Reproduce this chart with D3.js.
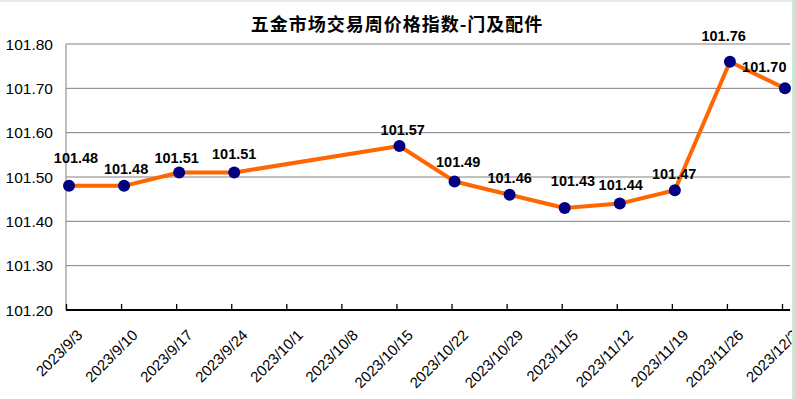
<!DOCTYPE html>
<html>
<head>
<meta charset="utf-8">
<title>五金市场交易周价格指数-门及配件</title>
<script src="https://cdn.jsdelivr.net/npm/d3@7"></script>
<style>
body { margin: 0; background: #fff; }
svg { display: block; }
</style>
</head>
<body>
<script>
// weekly dates on the x axis (10/1 and 10/8 have no value)
var dates = ["2023/9/3","2023/9/10","2023/9/17","2023/9/24","2023/10/1","2023/10/8","2023/10/15",
  "2023/10/22","2023/10/29","2023/11/5","2023/11/12","2023/11/19","2023/11/26","2023/12/3"];
var values = [101.48, 101.48, 101.51, 101.51, null, null, 101.57,
  101.49, 101.46, 101.43, 101.44, 101.47, 101.76, 101.70];
var yTicks = [101.20, 101.30, 101.40, 101.50, 101.60, 101.70, 101.80];
// label nudges (dx, dy) from each point, as the spreadsheet placed them
var labelDx = [7, 2, -2.5, 0, 0, 0, 3.3, 3.7, 0, 8.3, 1, -0.7, -6.3, -20.7];
var labelDy = [-23, -11.7, -10, -13.5, 0, 0, -11, -14.3, -11.3, -21.7, -14, -11.7, -20.7, -16.3];

var W = 795, H = 399;
var svg = d3.select("body").append("svg").attr("width", W).attr("height", H);
svg.append("rect").attr("width", W).attr("height", H).attr("fill", "#fff");

var x = d3.scalePoint().domain(dates).range([66, 782]);
var xp = d3.scalePoint().domain(dates).range([69, 785]);
var y = d3.scaleLinear().domain([101.2, 101.8]).range([310, 44]);

// gridlines
svg.append("g").selectAll("line")
  .data(yTicks.slice(1))
  .enter().append("line")
  .attr("x1", 66).attr("x2", 790)
  .attr("y1", function(d) { return y(d); }).attr("y2", function(d) { return y(d); })
  .attr("stroke", "#808080").attr("stroke-width", 1);

// left axis line
svg.append("line").attr("x1", 66).attr("x2", 66).attr("y1", 44).attr("y2", 310)
  .attr("stroke", "#808080").attr("stroke-width", 1);

// y labels
svg.append("g").selectAll("text")
  .data(yTicks)
  .enter().append("text")
  .attr("x", 53).attr("y", function(d) { return y(d) + 5.8; })
  .attr("text-anchor", "end")
  .style("font", "15.5px 'Liberation Sans', Arial, sans-serif")
  .attr("fill", "#000")
  .text(function(d) { return d3.format(".2f")(d); });

// bottom axis
var xAxis = d3.axisBottom(x).tickSize(-6).tickFormat("");
var gx = svg.append("g").attr("transform", "translate(0,310)").call(xAxis);
gx.select(".domain").attr("stroke", "#000").attr("stroke-width", 2).attr("d", "M66,0H790");
gx.selectAll(".tick line").attr("stroke", "#000").attr("stroke-width", 1.3);

svg.append("g").selectAll("text")
  .data(dates)
  .enter().append("text")
  .attr("transform", function(d) { return "translate(" + (x(d) + 17.5) + ",336) rotate(-45)"; })
  .attr("text-anchor", "end")
  .style("font", "15px 'Liberation Sans', Arial, sans-serif")
  .attr("fill", "#000")
  .text(function(d) { return d; });

// series
var pts = dates.map(function(d, i) { return { d: d, v: values[i], i: i }; })
  .filter(function(p) { return p.v !== null; });

var line = d3.line()
  .x(function(p) { return xp(p.d); })
  .y(function(p) { return y(p.v); });

svg.append("path").datum(pts)
  .attr("d", line)
  .attr("fill", "none")
  .attr("stroke", "#ff6600")
  .attr("stroke-width", 4)
  .attr("stroke-linejoin", "round");

svg.append("g").selectAll("circle")
  .data(pts)
  .enter().append("circle")
  .attr("cx", function(p) { return xp(p.d); })
  .attr("cy", function(p) { return y(p.v); })
  .attr("r", 6)
  .attr("fill", "#000080");

svg.append("g").selectAll("text")
  .data(pts)
  .enter().append("text")
  .attr("x", function(p) { return xp(p.d) + labelDx[p.i]; })
  .attr("y", function(p) { return y(p.v) + labelDy[p.i]; })
  .attr("text-anchor", "middle")
  .style("font", "bold 14.5px 'Liberation Sans', Arial, sans-serif")
  .attr("fill", "#000")
  .text(function(p) { return d3.format(".2f")(p.v); });

// title
svg.append("text")
  .attr("x", 397).attr("y", 31)
  .attr("text-anchor", "middle")
  .style("font", "bold 18px 'Noto Sans CJK SC', sans-serif")
  .style("letter-spacing", "1px")
  .attr("fill", "#000")
  .text("五金市场交易周价格指数-门及配件");

// spreadsheet edges around the chart object
svg.append("rect").attr("x", 0).attr("y", 0).attr("width", W).attr("height", 2).attr("fill", "#e4ebe4");
svg.append("rect").attr("x", 792).attr("y", 0).attr("width", 3).attr("height", H).attr("fill", "#cfe8d6");
</script>
</body>
</html>
